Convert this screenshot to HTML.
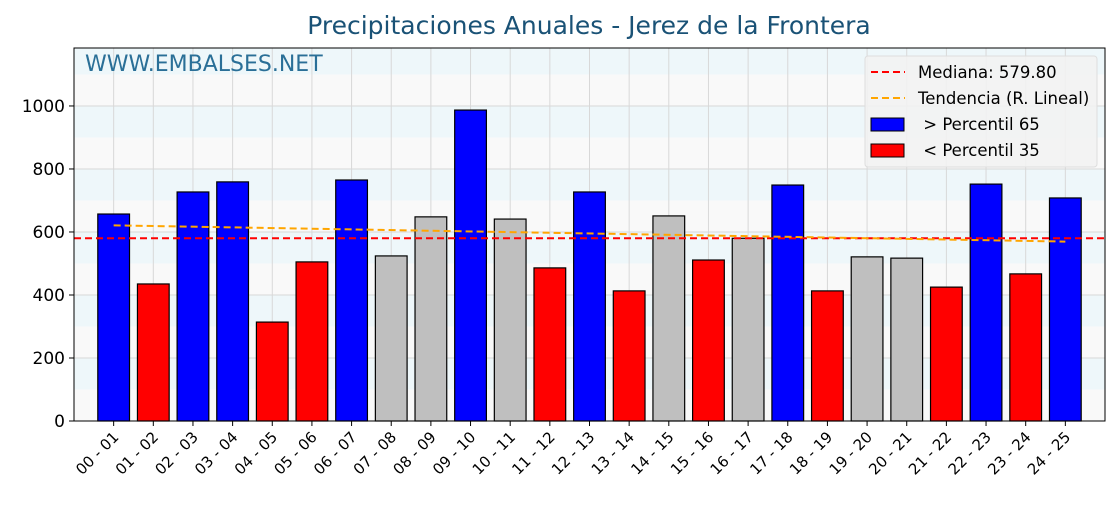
<!DOCTYPE html>
<html><head><meta charset="utf-8"><style>
body{margin:0;background:#fff;font-family:"Liberation Sans","DejaVu Sans",sans-serif}
svg text{font-family:"DejaVu Sans","Liberation Sans",sans-serif;white-space:pre}
</style></head><body>
<svg id="c" width="1120" height="500"></svg>
<script>
const categories=["00 - 01","01 - 02","02 - 03","03 - 04","04 - 05","05 - 06","06 - 07","07 - 08","08 - 09","09 - 10","10 - 11","11 - 12","12 - 13","13 - 14","14 - 15","15 - 16","16 - 17","17 - 18","18 - 19","19 - 20","20 - 21","21 - 22","22 - 23","23 - 24","24 - 25"];
const values=[657,435,727,759,314,505,765,524,648,987,641,486,727,413,651,511,580,749,413,521,517,425,752,467,708];
const yTicks=[0,200,400,600,800,1000];
const medianLabel="579.80";
const NS="http://www.w3.org/2000/svg";
const svg=document.getElementById('c');
const L=74,R=1105,T=48,B=421;
const yMax=1184;
const X=i=>L+(i+1)*(R-L)/26;
const Y=v=>B-v*(B-T)/yMax;
function mk(tag,a,parent){const e=document.createElementNS(NS,tag);for(const k in a)e.setAttribute(k,a[k]);(parent||svg).appendChild(e);return e;}
for(let b=0;b<yMax;b+=100){const top=Math.min(b+100,yMax);
const r=mk('rect',{x:L,y:Y(top),width:R-L,height:Y(b)-Y(top),fill:(b/100)%2?'#eef7fa':'#f9f9f9'});
}
categories.forEach((c,i)=>{const g=mk('line',{x1:X(i),x2:X(i),y1:T,y2:B,stroke:'#d8d8d8','stroke-width':1});
});
yTicks.forEach(t=>{const g=mk('line',{x1:L,x2:R,y1:Y(t),y2:Y(t),stroke:'#d8d8d8','stroke-width':1});

const tk=mk('line',{x1:L-5,x2:L,y1:Y(t),y2:Y(t),stroke:'#000'});
const tx=mk('text',{x:L-9,y:Y(t)+6,'text-anchor':'end','font-size':17,fill:'#000'});tx.textContent=t;
});
const sorted=[...values].sort((a,b)=>a-b);
function pct(p){const idx=p*(sorted.length-1),lo=Math.floor(idx),hi=Math.ceil(idx);return sorted[lo]+(sorted[hi]-sorted[lo])*(idx-lo);}
const p65=pct(0.65),p35=pct(0.35),med=pct(0.5);
const bw=(R-L)/26*0.8;
values.forEach((v,i)=>{const col=v>p65?'#0000ff':(v<p35?'#ff0000':'#bfbfbf');
const r=mk('rect',{x:X(i)-bw/2,y:Y(v),width:bw,height:B-Y(v),fill:col,stroke:'#000','stroke-width':1.2});

const tk=mk('line',{x1:X(i),x2:X(i),y1:B,y2:B+5,stroke:'#000'});
const tx=mk('text',{x:0,y:0,'text-anchor':'end','font-size':15,transform:`translate(${X(i)+6},${B+17}) rotate(-45)`});tx.textContent=categories[i];
});
const ml=mk('line',{x1:L,x2:R,y1:Y(med),y2:Y(med),stroke:'#ff0000','stroke-width':2,'stroke-dasharray':'7,4'});

const n=values.length,mx=(n-1)/2,my=values.reduce((a,b)=>a+b,0)/n;
let sxy=0,sxx=0;values.forEach((v,i)=>{sxy+=(i-mx)*(v-my);sxx+=(i-mx)*(i-mx);});
const sl=sxy/sxx,ic=my-sl*mx;
const tl=mk('line',{x1:X(0),x2:X(n-1),y1:Y(ic),y2:Y(ic+sl*(n-1)),stroke:'#ffa500','stroke-width':2,'stroke-dasharray':'7,4'});

const fr=mk('rect',{x:L,y:T,width:R-L,height:B-T,fill:'none',stroke:'#000','stroke-width':1});

const wm=mk('text',{x:85,y:71,'font-size':22,fill:'#2a6f97'});wm.textContent='WWW.EMBALSES.NET';

const ti=mk('text',{x:589,y:34,'text-anchor':'middle','font-size':25,fill:'#1a5276'});ti.textContent='Precipitaciones Anuales - Jerez de la Frontera';

const lg=mk('g',{});
mk('rect',{x:865,y:56,width:232,height:111,rx:3,fill:'#f2f2f2','fill-opacity':0.9,stroke:'#ddd'},lg);
const items=[['line','#ff0000','Mediana: '+medianLabel],['line','#ffa500','Tendencia (R. Lineal)'],['box','#0000ff',' > Percentil 65'],['box','#ff0000',' < Percentil 35']];
items.forEach((it,k)=>{const y=72+k*26;const g=mk('g',{},lg);

if(it[0]==='line')mk('line',{x1:871,x2:905,y1:y,y2:y,stroke:it[1],'stroke-width':2,'stroke-dasharray':'7,4'},g);
else mk('rect',{x:871,y:y-6,width:33,height:13,fill:it[1],stroke:'#000'},g);
const t=mk('text',{x:918,y:y+6,'font-size':16.5},g);t.textContent=it[2];});
</script>
</body></html>
